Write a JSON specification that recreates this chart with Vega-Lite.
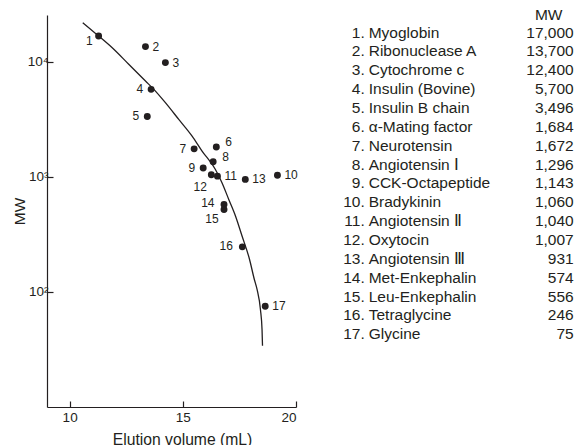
{
  "$schema": "https://vega.github.io/schema/vega-lite/v6.json",
  "padding": {"left": 12, "top": 8, "right": 0, "bottom": 0},
  "bounds": "flush",
  "spacing": 20,
  "background": "white",
  "config": {
    "view": {"stroke": null},
    "font": "Liberation Sans",
    "text": {"font": "Liberation Sans", "color": "#231f20"}
  },
  "datasets": {
    "peptides": [
      {"id": 1, "no": "1.", "name": "Myoglobin", "mw": 17000, "volume": 11.28, "mw_plot": 16700},
      {"id": 2, "no": "2.", "name": "Ribonuclease A", "mw": 13700, "volume": 13.35, "mw_plot": 13500},
      {"id": 3, "no": "3.", "name": "Cytochrome c", "mw": 12400, "volume": 14.23, "mw_plot": 9800},
      {"id": 4, "no": "4.", "name": "Insulin (Bovine)", "mw": 5700, "volume": 13.6, "mw_plot": 5740},
      {"id": 5, "no": "5.", "name": "Insulin B chain", "mw": 3496, "volume": 13.43, "mw_plot": 3340},
      {"id": 6, "no": "6.", "name": "α-Mating factor", "mw": 1684, "volume": 16.48, "mw_plot": 1815},
      {"id": 7, "no": "7.", "name": "Neurotensin", "mw": 1672, "volume": 15.5, "mw_plot": 1746},
      {"id": 8, "no": "8.", "name": "Angiotensin Ⅰ", "mw": 1296, "volume": 16.34, "mw_plot": 1348},
      {"id": 9, "no": "9.", "name": "CCK-Octapeptide", "mw": 1143, "volume": 15.9, "mw_plot": 1190},
      {"id": 10, "no": "10.", "name": "Bradykinin", "mw": 1060, "volume": 19.18, "mw_plot": 1030},
      {"id": 11, "no": "11.", "name": "Angiotensin Ⅱ", "mw": 1040, "volume": 16.53, "mw_plot": 1012},
      {"id": 12, "no": "12.", "name": "Oxytocin", "mw": 1007, "volume": 16.26, "mw_plot": 1040},
      {"id": 13, "no": "13.", "name": "Angiotensin Ⅲ", "mw": 931, "volume": 17.76, "mw_plot": 948},
      {"id": 14, "no": "14.", "name": "Met-Enkephalin", "mw": 574, "volume": 16.82, "mw_plot": 574},
      {"id": 15, "no": "15.", "name": "Leu-Enkephalin", "mw": 556, "volume": 16.82, "mw_plot": 520},
      {"id": 16, "no": "16.", "name": "Tetraglycine", "mw": 246, "volume": 17.63, "mw_plot": 246},
      {"id": 17, "no": "17.", "name": "Glycine", "mw": 75, "volume": 18.64, "mw_plot": 75}
    ],
    "curve": [
      {"volume": 10.58, "mw": 21800},
      {"volume": 11.28, "mw": 16700},
      {"volume": 11.87, "mw": 13250},
      {"volume": 12.61, "mw": 9480},
      {"volume": 13.35, "mw": 6780},
      {"volume": 13.72, "mw": 5740},
      {"volume": 14.23, "mw": 4400},
      {"volume": 14.82, "mw": 3150},
      {"volume": 15.41, "mw": 2255},
      {"volume": 15.85, "mw": 1671},
      {"volume": 16.44, "mw": 1157},
      {"volume": 16.73, "mw": 887},
      {"volume": 17.03, "mw": 635},
      {"volume": 17.33, "mw": 454},
      {"volume": 17.62, "mw": 304},
      {"volume": 17.94, "mw": 194},
      {"volume": 18.16, "mw": 128},
      {"volume": 18.28, "mw": 105},
      {"volume": 18.43, "mw": 70},
      {"volume": 18.5, "mw": 47},
      {"volume": 18.52, "mw": 34}
    ]
  },
  "hconcat": [
    {
      "width": 249,
      "height": 392,
      "encoding": {
        "x": {
          "type": "quantitative",
          "scale": {"domain": [9, 20], "nice": false, "zero": false},
          "axis": {
            "values": [10, 15, 20],
            "title": "Elution volume (mL)",
            "grid": false,
            "tickSize": -6,
            "labelPadding": 9,
            "domainColor": "#231f20",
            "tickColor": "#231f20",
            "labelColor": "#231f20",
            "titleColor": "#231f20",
            "labelFontSize": 13.5,
            "titleFontSize": 15.7,
            "titleFontWeight": "normal",
            "titlePadding": 9,
            "titleX": 135,
            "labelFont": "Liberation Sans",
            "titleFont": "Liberation Sans",
            "domainWidth": 1.2,
            "tickWidth": 1.2
          }
        },
        "y": {
          "type": "quantitative",
          "scale": {"type": "log", "domain": [10, 25400], "nice": false},
          "axis": {
            "values": [100, 1000, 10000],
            "labelExpr": "datum.value == 100 ? '10²' : datum.value == 1000 ? '10³' : '10⁴'",
            "title": "MW",
            "grid": false,
            "tickSize": -6,
            "labelPadding": 5,
            "domainColor": "#231f20",
            "tickColor": "#231f20",
            "labelColor": "#231f20",
            "titleColor": "#231f20",
            "labelFontSize": 13.5,
            "titleFontSize": 15.5,
            "titleFontWeight": "normal",
            "titlePadding": 0,
            "labelFont": "Liberation Sans",
            "titleFont": "Liberation Sans",
            "domainWidth": 1.2,
            "tickWidth": 1.2
          }
        }
      },
      "layer": [
        {
          "data": {"name": "curve"},
          "mark": {"type": "line", "interpolate": "monotone", "color": "#231f20", "strokeWidth": 1.3},
          "encoding": {
            "x": {"field": "volume", "type": "quantitative"},
            "y": {"field": "mw", "type": "quantitative"}
          }
        },
        {
          "data": {"name": "peptides"},
          "mark": {"type": "circle", "size": 48, "color": "#231f20", "opacity": 1},
          "encoding": {
            "x": {"field": "volume", "type": "quantitative"},
            "y": {"field": "mw_plot", "type": "quantitative"}
          }
        },
        {
          "data": {"name": "peptides"},
          "transform": [{"filter": {"field": "id", "oneOf": [2, 3, 10, 11, 13, 17]}}],
          "mark": {"type": "text", "align": "left", "baseline": "middle", "dx": 7, "fontSize": 12},
          "encoding": {
            "x": {"field": "volume", "type": "quantitative"},
            "y": {"field": "mw_plot", "type": "quantitative"},
            "text": {"field": "id"}
          }
        },
        {
          "data": {"name": "peptides"},
          "transform": [{"filter": {"field": "id", "oneOf": [6, 8]}}],
          "mark": {"type": "text", "align": "left", "baseline": "middle", "dx": 9, "dy": -4.5, "fontSize": 12},
          "encoding": {
            "x": {"field": "volume", "type": "quantitative"},
            "y": {"field": "mw_plot", "type": "quantitative"},
            "text": {"field": "id"}
          }
        },
        {
          "data": {"name": "peptides"},
          "transform": [{"filter": {"field": "id", "oneOf": [4, 5, 7, 9]}}],
          "mark": {"type": "text", "align": "right", "baseline": "middle", "dx": -8, "fontSize": 12},
          "encoding": {
            "x": {"field": "volume", "type": "quantitative"},
            "y": {"field": "mw_plot", "type": "quantitative"},
            "text": {"field": "id"}
          }
        },
        {
          "data": {"name": "peptides"},
          "transform": [{"filter": {"field": "id", "oneOf": [14, 16]}}],
          "mark": {"type": "text", "align": "right", "baseline": "middle", "dx": -9.5, "dy": -1, "fontSize": 12},
          "encoding": {
            "x": {"field": "volume", "type": "quantitative"},
            "y": {"field": "mw_plot", "type": "quantitative"},
            "text": {"field": "id"}
          }
        },
        {
          "data": {"name": "peptides"},
          "transform": [{"filter": {"field": "id", "oneOf": [1]}}],
          "mark": {"type": "text", "align": "right", "baseline": "middle", "dx": -6, "dy": 5.5, "fontSize": 12},
          "encoding": {
            "x": {"field": "volume", "type": "quantitative"},
            "y": {"field": "mw_plot", "type": "quantitative"},
            "text": {"field": "id"}
          }
        },
        {
          "data": {"name": "peptides"},
          "transform": [{"filter": {"field": "id", "oneOf": [12]}}],
          "mark": {"type": "text", "align": "right", "baseline": "middle", "dx": -4.5, "dy": 12.5, "fontSize": 12},
          "encoding": {
            "x": {"field": "volume", "type": "quantitative"},
            "y": {"field": "mw_plot", "type": "quantitative"},
            "text": {"field": "id"}
          }
        },
        {
          "data": {"name": "peptides"},
          "transform": [{"filter": {"field": "id", "oneOf": [15]}}],
          "mark": {"type": "text", "align": "right", "baseline": "middle", "dx": -5.3, "dy": 9.3, "fontSize": 12},
          "encoding": {
            "x": {"field": "volume", "type": "quantitative"},
            "y": {"field": "mw_plot", "type": "quantitative"},
            "text": {"field": "id"}
          }
        }
      ]
    },
    {
      "width": 258,
      "height": 392,
      "layer": [
        {
          "data": {"name": "peptides"},
          "mark": {"type": "text", "align": "right", "baseline": "middle", "fontSize": 15.5},
          "encoding": {
            "x": {"datum": 48.7, "type": "quantitative", "scale": {"domain": [0, 258], "nice": false, "zero": false}, "axis": null},
            "y": {"field": "id", "type": "quantitative", "scale": {"domain": [0.0668, 20.852], "reverse": true, "nice": false, "zero": false}, "axis": null},
            "text": {"field": "no"}
          }
        },
        {
          "data": {"name": "peptides"},
          "mark": {"type": "text", "align": "left", "baseline": "middle", "fontSize": 15.5},
          "encoding": {
            "x": {"datum": 52.7, "type": "quantitative"},
            "y": {"field": "id", "type": "quantitative"},
            "text": {"field": "name"}
          }
        },
        {
          "data": {"name": "peptides"},
          "mark": {"type": "text", "align": "right", "baseline": "middle", "fontSize": 15.5},
          "encoding": {
            "x": {"datum": 257.7, "type": "quantitative"},
            "y": {"field": "id", "type": "quantitative"},
            "text": {"field": "mw", "format": ",d"}
          }
        },
        {
          "data": {"values": [{"header": "MW", "row": 0.07}]},
          "mark": {"type": "text", "align": "center", "baseline": "middle", "fontSize": 15.5},
          "encoding": {
            "x": {"datum": 232.7, "type": "quantitative"},
            "y": {"field": "row", "type": "quantitative"},
            "text": {"field": "header"}
          }
        }
      ]
    }
  ]
}
